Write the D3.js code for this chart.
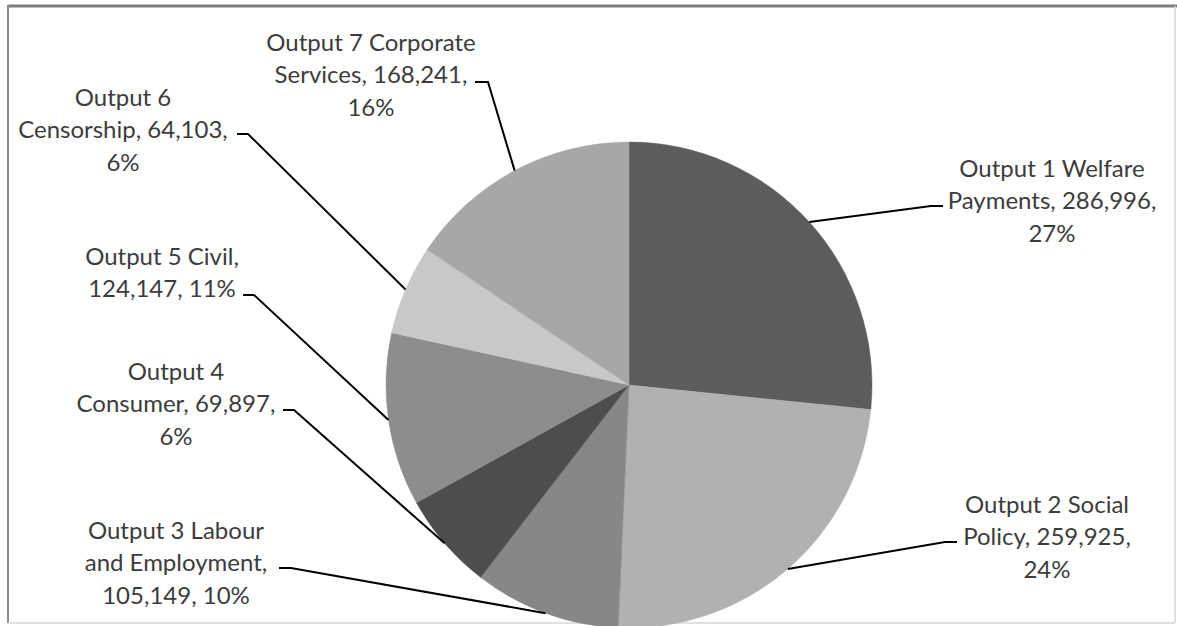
<!DOCTYPE html>
<html>
<head>
<meta charset="utf-8">
<script src="https://cdn.jsdelivr.net/npm/d3@7"></script>
<style>
  html, body { margin: 0; padding: 0; background: #ffffff; }
  svg { display: block; }
</style>
</head>
<body>
<svg id="chart" width="1177" height="626"></svg>
<script>
// Budget by output: category names, amounts and the printed share of each
const categories = [
  "Output 1 Welfare Payments",
  "Output 2 Social Policy",
  "Output 3 Labour and Employment",
  "Output 4 Consumer",
  "Output 5 Civil",
  "Output 6 Censorship",
  "Output 7 Corporate Services"
];
const values = [286996, 259925, 105149, 69897, 124147, 64103, 168241];
const percentLabels = ["27%", "24%", "10%", "6%", "11%", "6%", "16%"];

// Fill for each slice, same order as the categories
const sliceColors = ["#5c5c5c", "#b1b1b1", "#878787", "#4d4d4d", "#8d8d8d", "#c8c8c8", "#a7a7a7"];

// Label placement: block centre x, centre y of first line, words per line,
// and the short horizontal stub where the leader line leaves the label
const labelLayout = [
  { cx: 1052, y: 168, words: [3, 2, 1], stub: [943, 931, 206] },
  { cx: 1047, y: 504, words: [3, 2, 1], stub: [957, 945, 542] },
  { cx: 176,  y: 530, words: [3, 2, 2], stub: [279, 291, 568] },
  { cx: 176,  y: 371, words: [2, 2, 1], stub: [283, 294, 410] },
  { cx: 162,  y: 256, words: [3, 2],    stub: [243, 254, 295] },
  { cx: 123,  y: 97,  words: [2, 2, 1], stub: [237, 248, 134] },
  { cx: 371,  y: 42,  words: [3, 2, 1], stub: [475, 488, 82] }
];

const width = 1177, height = 626;
const cx = 629, cy = 385, radius = 243;
const lineGap = 32.5;

const svg = d3.select("#chart");

// Chart frame
const frame = svg.append("g");
frame.append("line").attr("x1", 8).attr("y1", 6).attr("x2", width).attr("y2", 6)
  .attr("stroke", "#7d7d7d").attr("stroke-width", 3);
frame.append("line").attr("x1", 8).attr("y1", 5).attr("x2", 8).attr("y2", 623)
  .attr("stroke", "#8a8a8a").attr("stroke-width", 2);
frame.append("line").attr("x1", 1175).attr("y1", 6).attr("x2", 1175).attr("y2", 623)
  .attr("stroke", "#d6d6d6").attr("stroke-width", 1.5);
frame.append("line").attr("x1", 8).attr("y1", 623).attr("x2", 1175).attr("y2", 623)
  .attr("stroke", "#d6d6d6").attr("stroke-width", 1.5);

// Pie, starting at 12 o'clock and running clockwise in data order
const data = categories.map((name, i) => ({
  name, value: values[i], pct: percentLabels[i], color: sliceColors[i], layout: labelLayout[i]
}));

const pie = d3.pie().value(d => d.value).sort(null);
const arcs = pie(data);

const arc = d3.arc().innerRadius(0).outerRadius(radius);
const rim = d3.arc().innerRadius(radius).outerRadius(radius);

const plot = svg.append("g").attr("transform", `translate(${cx},${cy})`);

plot.selectAll("path.slice")
  .data(arcs)
  .join("path")
  .attr("class", "slice")
  .attr("d", arc)
  .attr("fill", d => d.data.color)
  .attr("stroke", d => d.data.color)
  .attr("stroke-width", 0.5);

// Leader lines from each label to the middle of its slice's rim
const leaders = svg.append("g");
arcs.forEach(a => {
  const [px, py] = rim.centroid(a);
  const s = a.data.layout.stub;
  leaders.append("polyline")
    .attr("points", `${s[0]},${s[2]} ${s[1]},${s[2]} ${cx + px},${cy + py}`)
    .attr("fill", "none")
    .attr("stroke", "#000000")
    .attr("stroke-width", 2);
});

// Data labels: "name, value, percent", wrapped onto centred lines
const fmt = d3.format(",");
const labels = svg.append("g")
  .attr("font-family", "Lato, 'Open Sans', sans-serif")
  .attr("font-size", 24)
  .attr("fill", "#3c3c3c")
  .attr("text-anchor", "middle");

arcs.forEach(a => {
  const d = a.data;
  const full = `${d.name}, ${fmt(d.value)}, ${d.pct}`;
  const words = full.split(" ");
  const lines = [];
  let k = 0;
  d.layout.words.forEach(n => {
    lines.push(words.slice(k, k + n).join(" "));
    k += n;
  });
  const t = labels.append("text");
  lines.forEach((ln, i) => {
    t.append("tspan")
      .attr("x", d.layout.cx)
      .attr("y", d.layout.y + i * lineGap + 8.5)
      .text(ln);
  });
});
</script>
</body>
</html>
